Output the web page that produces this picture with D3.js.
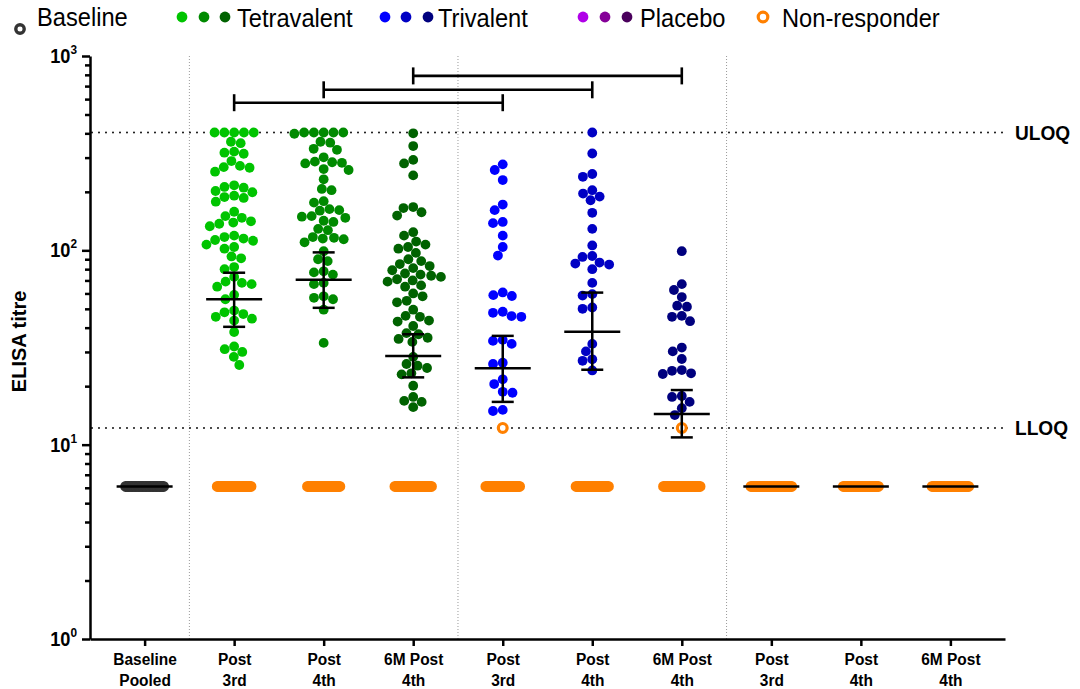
<!DOCTYPE html>
<html>
<head>
<meta charset="utf-8">
<script src="https://cdn.jsdelivr.net/npm/d3@7"></script>
<style>
  body { margin: 0; background: #fff; }
  svg { display: block; font-family: "Liberation Sans", Arial, sans-serif; }
</style>
</head>
<body>
<svg id="chart" width="1080" height="689"></svg>
<script>
// ---- data ----
var labelTop = ["Baseline", "Post", "Post", "6M Post", "Post", "Post", "6M Post", "Post", "Post", "6M Post"];
var labelBottom = ["Pooled", "3rd", "4th", "4th", "3rd", "4th", "4th", "3rd", "4th", "4th"];

var tetraPost3 = [404, 404, 404, 404, 404, 362, 356, 322, 318, 314, 288, 272, 268, 266, 254, 216, 212, 210,
  202, 199, 191, 188, 186, 178, 158, 150, 147, 141, 139, 137, 133, 119, 117, 115, 113, 112, 107, 104, 102,
  93, 91, 82, 80, 73, 69, 68, 67, 65, 59, 56, 49, 48, 47, 45.5, 44.5, 43.5, 38, 32, 31, 30, 28.3, 25.7];
var tetraPost4 = [404, 404, 404, 404, 404, 398, 362, 358, 333, 329, 301, 286, 284, 282, 280, 262, 259, 232,
  207, 204, 179, 176, 163, 161, 160, 150, 149, 147, 142, 140, 129, 127, 117, 116, 115, 114, 110, 99, 90, 88,
  78, 77, 75, 68, 67, 58, 57, 56, 49.5, 33.4];
var tetra6M = [400, 344, 292, 280, 243, 167, 165, 157, 151, 124, 119, 111, 107, 104, 102, 97, 90, 88, 85, 83,
  81, 79, 76, 75, 74, 73, 71, 70, 69, 66, 65, 60, 58, 55, 54, 49.5, 46, 45.5, 43.5, 43, 40.8, 37.5, 37, 35.5,
  35, 33.8, 28.3, 26, 25.5, 24.8, 23.3, 23, 20.1, 17.6, 16.8, 16.6, 15.6];
var triPost3 = [277, 259, 230, 172, 161, 140, 138, 119, 104, 94, 60.7, 58.8, 58.2, 48.3, 47.7, 45.9, 45.5,
  34.6, 34.2, 33, 26.4, 26, 21.7, 20.5, 18.7, 18.5, 15.1, 14.9];
var triPost4 = [404, 315, 247, 239, 204, 196, 189, 181, 156, 129, 106, 93.5, 92.5, 86.5, 85.5, 84.5, 80, 68,
  59.5, 58.5, 50.8, 50, 33, 30.2, 27.5, 27, 24.1];
var tri6M = [99, 67, 62.5, 57.5, 51.9, 51.3, 46, 45.5, 43.2, 31.6, 30.2, 27.6, 24.2, 24, 23.3, 23.1, 17.8,
  17.6, 16.6, 15.4, 14.2];

var responders = [[], tetraPost3, tetraPost4, tetra6M, triPost3, triPost4, tri6M, [], [], []];
var nonRespAtLloq = [0, 0, 0, 0, 1, 0, 1, 0, 0, 0];      // open orange circles sitting on LLOQ
var nonRespAtFloor = [28, 25, 24, 27, 25, 24, 27, 30, 26, 27]; // points imputed at LLOQ/2

var gmt = [6.1, 56, 70.6, 28.6, 24.7, 38.1, 14.4, 6.1, 6.1, 6.1];
var ciLow = [null, 40.4, 50.6, 22.2, 16.6, 24.3, 10.9, null, null, null];
var ciHigh = [null, 76.7, 97.6, 37.0, 36.3, 60.6, 19.1, null, null, null];

var uloq = 404, lloq = 12.2, floorValue = 6.1;
var brackets = [[1, 4, 575], [2, 5, 670], [3, 6, 790]];   // group a, group b, height (titre)
var dividers = [0, 3, 6];                                // dotted line after these groups

var legendNames = ["Baseline", "Tetravalent", "Trivalent", "Placebo", "Non-responder"];

// ---- styling ----
var groupColor = ["#333333", "#00c400", "#008a00", "#006200", "#0000ff", "#0000c4", "#00007e", "#b000e8", "#850098", "#4a005c"];
var orange = "#ff8000";
var dotR = 4.9;
var squeeze = 0.91;

var svg = d3.select("#chart");

var x = d3.scalePoint().domain(d3.range(10)).range([90, 1005]).padding(0.61);
var y = d3.scaleLog().domain([1, 1000]).range([639, 56]);

function label(g, px, py, str, size, weight, anchor) {
  return g.append("text")
    .attr("transform", "translate(" + px + "," + py + ") scale(" + squeeze + ",1)")
    .attr("font-size", size)
    .attr("font-weight", weight || "normal")
    .attr("text-anchor", anchor || "start")
    .attr("fill", "#000")
    .text(str);
}

// dotted separators
svg.append("g").selectAll("line").data(dividers).enter().append("line")
  .attr("x1", function (d) { return (x(d) + x(d + 1)) / 2; })
  .attr("x2", function (d) { return (x(d) + x(d + 1)) / 2; })
  .attr("y1", y(1000)).attr("y2", y(1))
  .attr("stroke", "#9a9a9a").attr("stroke-width", 1).attr("stroke-dasharray", "1,2");

// ULOQ / LLOQ lines
var limits = svg.append("g");
[[uloq, "ULOQ"], [lloq, "LLOQ"]].forEach(function (l) {
  limits.append("line")
    .attr("x1", 92).attr("x2", 1003)
    .attr("y1", y(l[0])).attr("y2", y(l[0]))
    .attr("stroke", "#111").attr("stroke-width", 2)
    .attr("stroke-linecap", "round").attr("stroke-dasharray", "0,7");
  label(limits, 1015, y(l[0]) + 7.5, l[1], 21, "bold");
});

// axes
var majors = [1, 10, 100, 1000];
var minors = [];
[1, 10, 100].forEach(function (d) { for (var k = 2; k < 10; k++) minors.push(k * d); });

svg.append("g").attr("transform", "translate(90,0)")
  .call(d3.axisLeft(y).tickValues(majors).tickSize(8).tickSizeOuter(0).tickFormat(""));
svg.append("g").attr("transform", "translate(90,0)")
  .call(d3.axisLeft(y).tickValues(minors).tickSize(5).tickFormat(""))
  .select(".domain").remove();
var xAxis = svg.append("g").attr("transform", "translate(0," + y(1) + ")")
  .call(d3.axisBottom(x).tickSize(7).tickSizeOuter(0).tickFormat(""))
  .attr("font-family", null).attr("font-size", null);
svg.selectAll(".domain, .tick line").attr("stroke", "#000").attr("stroke-width", 2.5);

var yLabels = svg.append("g");
majors.forEach(function (m) {
  var t = yLabels.append("text")
    .attr("transform", "translate(77," + (y(m) + 7) + ") scale(" + squeeze + ",1)")
    .attr("text-anchor", "end").attr("font-weight", "bold").attr("fill", "#000");
  t.append("tspan").attr("font-size", 20).text("10");
  t.append("tspan").attr("font-size", 13).attr("dy", -9).text(String(Math.log10(m)));
});

xAxis.selectAll(".tick").each(function (d) {
  var g = d3.select(this);
  label(g, 0, 26, labelTop[d], 17, "bold", "middle");
  label(g, 0, 47, labelBottom[d], 17, "bold", "middle");
});

svg.append("text")
  .attr("transform", "translate(26," + y(34) + ") rotate(-90)")
  .attr("text-anchor", "middle").attr("font-size", 20).attr("font-weight", "bold")
  .text("ELISA titre");

// beeswarm layout for each group
function swarm(points) {
  var d = 2 * dotR, placed = [];
  points.sort(function (a, b) { return a.py - b.py; }).forEach(function (p) {
    var near = placed.filter(function (q) { return Math.abs(q.py - p.py) < d; });
    var cands = [0];
    near.forEach(function (q) {
      var w = Math.sqrt(d * d - (q.py - p.py) * (q.py - p.py));
      cands.push(q.dx + w, q.dx - w);
    });
    cands.sort(function (a, b) { return Math.abs(a) - Math.abs(b) || a - b; });
    for (var i = 0; i < cands.length; i++) {
      var c = cands[i];
      var ok = near.every(function (q) {
        return (q.dx - c) * (q.dx - c) + (q.py - p.py) * (q.py - p.py) >= d * d - 0.01;
      });
      if (ok) { p.dx = c; break; }
    }
    placed.push(p);
  });
  return placed;
}

var plot = svg.append("g");

// floor rows (baseline pooled, non-responders, placebo)
nonRespAtFloor.forEach(function (n, gi) {
  var pts = d3.range(n).map(function (i) { return (i - (n - 1) / 2) * 1.4; });
  plot.append("g").selectAll("circle").data(pts).enter().append("circle")
    .attr("cx", function (d) { return x(gi) + d; })
    .attr("cy", y(floorValue))
    .attr("r", dotR - 0.8)
    .attr("fill", "none")
    .attr("stroke", gi === 0 ? "#333" : orange)
    .attr("stroke-width", 2.8);
});

responders.forEach(function (vals, gi) {
  var pts = vals.map(function (v) { return { v: v, py: y(v), nr: false }; });
  for (var k = 0; k < nonRespAtLloq[gi]; k++) pts.push({ v: lloq, py: y(lloq), nr: true });
  var laid = swarm(pts);
  plot.append("g").selectAll("circle").data(laid).enter().append("circle")
    .attr("cx", function (d) { return x(gi) + d.dx; })
    .attr("cy", function (d) { return d.py; })
    .attr("r", function (d) { return d.nr ? dotR - 0.5 : dotR; })
    .attr("fill", function (d) { return d.nr ? "#fff" : groupColor[gi]; })
    .attr("stroke", function (d) { return d.nr ? orange : "none"; })
    .attr("stroke-width", 3.2);
});

// geometric mean with 95% CI
var stats = svg.append("g").attr("stroke", "#000").attr("stroke-width", 2.5);
gmt.forEach(function (m, gi) {
  var cx = x(gi);
  stats.append("line").attr("x1", cx - 28).attr("x2", cx + 28).attr("y1", y(m)).attr("y2", y(m));
  if (ciLow[gi] == null) return;
  stats.append("line").attr("x1", cx).attr("x2", cx).attr("y1", y(ciLow[gi])).attr("y2", y(ciHigh[gi]));
  [ciLow[gi], ciHigh[gi]].forEach(function (c) {
    stats.append("line").attr("x1", cx - 11).attr("x2", cx + 11).attr("y1", y(c)).attr("y2", y(c));
  });
});

// significance brackets
var br = svg.append("g").attr("stroke", "#000").attr("stroke-width", 2.6);
brackets.forEach(function (b) {
  var yy = y(b[2]);
  br.append("line").attr("x1", x(b[0])).attr("x2", x(b[1])).attr("y1", yy).attr("y2", yy);
  [b[0], b[1]].forEach(function (gi) {
    br.append("line").attr("x1", x(gi)).attr("x2", x(gi)).attr("y1", yy - 8.5).attr("y2", yy + 8.5);
  });
});

// legend
var legend = svg.append("g");
legend.append("circle").attr("cx", 20).attr("cy", 29).attr("r", 4.2)
  .attr("fill", "none").attr("stroke", "#333").attr("stroke-width", 3.4);
label(legend, 37, 26, legendNames[0], 26);

var legendDots = [[1, 182], [2, 204], [3, 225], [4, 385], [5, 406], [6, 428], [7, 583], [8, 605], [9, 627]];
legend.selectAll(".ld").data(legendDots).enter().append("circle")
  .attr("cx", function (d) { return d[1]; }).attr("cy", 17).attr("r", 5.4)
  .attr("fill", function (d) { return groupColor[d[0]]; });
label(legend, 237, 27, legendNames[1], 26);
label(legend, 438, 27, legendNames[2], 26);
label(legend, 640, 27, legendNames[3], 26);
legend.append("circle").attr("cx", 763).attr("cy", 17).attr("r", 4.8)
  .attr("fill", "none").attr("stroke", orange).attr("stroke-width", 3.2);
label(legend, 782, 27, legendNames[4], 26);
</script>
</body>
</html>
